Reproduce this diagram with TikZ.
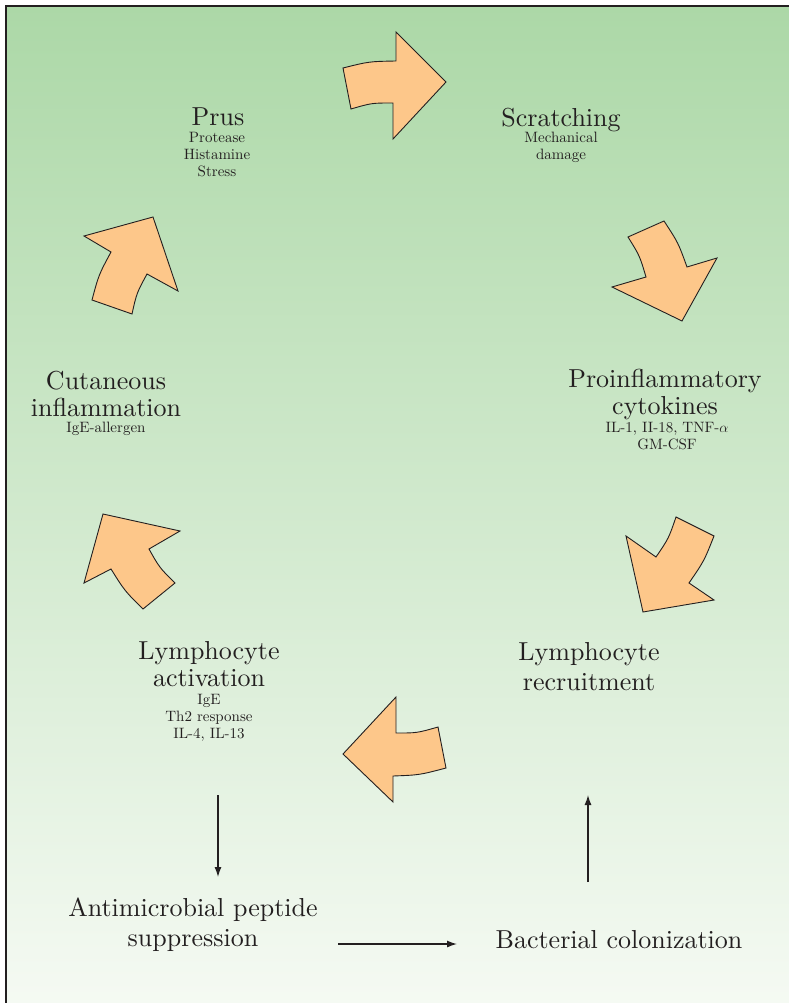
\documentclass[tikz,border=0pt]{standalone}
\usepackage{fontspec}
\setmainfont{lmroman10-regular.otf}
\usepackage{tikz}
\usetikzlibrary{positioning, arrows.meta}
\definecolor{cyGreen}{RGB}{172, 216, 167}
\definecolor{cyPale}{RGB}{245, 250, 243}
\definecolor{cyOrange}{RGB}{253, 199, 138}
\definecolor{cyInk}{RGB}{35, 31, 32}
\tikzset{
    base/.style={
        align=center,
        text=cyInk,
        inner sep=0pt
    },
    stage/.style={
        base,
        font=\fontsize{26}{27}\selectfont
    },
    detail/.style={
        base,
        font=\fontsize{15}{17}\selectfont
    },
    block/.style={
        draw=cyInk,
        fill=cyOrange,
        line width=0.9pt,
        line join=miter
    },
    flow/.style={
        -{Latex[length=10pt, width=7pt]},
        line width=1.3pt,
        color=cyInk
    }
}

\begin{document}
\begin{tikzpicture}[x=1pt, y=-1pt]
    % Frame and background
    \useasboundingbox (0,0) rectangle (789,1003);
    \clip (0,0) rectangle (789,1003);
    \shade[top color=cyGreen, bottom color=cyPale] (6,6) rectangle (792,1006);
    \draw[line width=2pt, cyInk] (6,1006) -- (6,6) -- (792,6);

    % Prus
    \node[stage] (prus) at (218,117) {Prus};
    \node[detail] (prusInfo) at (217,155) {Protease\\Histamine\\Stress};

    % Scratching
    \node[stage] (scratch) at (561,120) {Scratching};
    \node[detail] (scratchInfo) at (561,147) {Mechanical\\damage};

    % Proinflammatory cytokines
    \node[stage] (cytokines) at (665,394) {Proinflammatory\\cytokines};
    \node[detail] (cytoInfo) at (667,436) {IL-1, II-18, TNF-$\alpha$\\GM-CSF};

    % Cutaneous inflammation
    \node[stage] (cutaneous) at (106,394) {Cutaneous\\inflammation};
    \node[detail] (cutInfo) at (106,429) {IgE-allergen};

    % Lymphocyte activation
    \node[stage] (activation) at (209,664) {Lymphocyte\\activation};
    \node[detail] (actInfo) at (209,718) {IgE\\Th2 response\\IL-4, IL-13};

    % Lymphocyte recruitment
    \node[stage, font=\fontsize{26}{30}\selectfont] (recruit) at (589,667) {Lymphocyte\\recruitment};

    % Antimicrobial peptide suppression
    \node[stage, font=\fontsize{26}{30}\selectfont] (antimicro) at (193,925) {Antimicrobial peptide\\suppression};

    % Bacterial colonization
    \node[stage] (bacteria) at (619,940) {Bacterial colonization};

    % Cycle arrows
    \draw[block] (393,103) .. controls (371.6,103) .. (351,109) -- (343,68)
        .. controls (369,61.5) .. (396,61) -- (396,32) -- (446,82) -- (393,139) -- cycle;
    \draw[block] (646,277) .. controls (639.7,255.8) .. (628,237) -- (664,221)
        .. controls (678.2,242.7) .. (687,267) -- (717,258) -- (682,321) -- (612,287) -- cycle;
    \draw[block] (656,557) .. controls (668.7,538.3) .. (676,517) -- (714,536)
        .. controls (704.1,561) .. (689,583) -- (714,600) -- (643,612) -- (626,536) -- cycle;
    \draw[block] (396,733) .. controls (417,733) .. (438,727) -- (446,768)
        .. controls (419.5,775) .. (393,776) -- (393,802) -- (343,754) -- (396,697) -- cycle;
    \draw[block] (149,549) .. controls (159.6,567.8) .. (175,583) -- (143,609)
        .. controls (124.7,590.9) .. (111,569) -- (84,583) -- (103,514) -- (180,531) -- cycle;
    \draw[block] (147,274) .. controls (136.7,293) .. (132,314) -- (92,300)
        .. controls (98.7,274.9) .. (111,252) -- (84,236) -- (153,217) -- (178,291) -- cycle;

    % Straight arrows
    \coordinate (actEnd) at (218,795);
    \coordinate (supTop) at (218,877);
    \coordinate (supEnd) at (338,944);
    \coordinate (bacStart) at (457,944);
    \coordinate (bacTop) at (588,882);
    \coordinate (recEnd) at (588,795);
    \draw[flow] (actEnd) -- (supTop);
    \draw[flow] (supEnd) -- (bacStart);
    \draw[flow] (bacTop) -- (recEnd);
\end{tikzpicture}
\end{document}
